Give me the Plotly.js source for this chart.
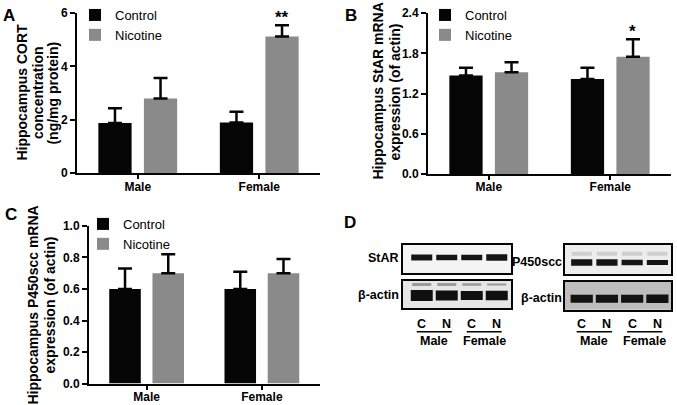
<!DOCTYPE html>
<html>
<head>
<meta charset="utf-8">
<script src="https://cdn.plot.ly/plotly-3.0.1.min.js"></script>
<style>html,body{margin:0;padding:0;background:#fff;}#chart{width:677px;height:405px;}</style>
</head>
<body>
<div id="chart"></div>
<script>
// ---------- data ----------
const categories = ['Male', 'Female'];
const seriesNames = ['Control', 'Nicotine'];

const cortControl = [1.88, 1.90];
const cortControlErr = [0.55, 0.40];
const cortNicotine = [2.80, 5.12];
const cortNicotineErr = [0.76, 0.42];

const starControl = [1.47, 1.42];
const starControlErr = [0.115, 0.165];
const starNicotine = [1.52, 1.75];
const starNicotineErr = [0.15, 0.26];

const p450Control = [0.60, 0.60];
const p450ControlErr = [0.13, 0.11];
const p450Nicotine = [0.70, 0.70];
const p450NicotineErr = [0.12, 0.09];

const cortTicks = [0, 2, 4, 6];
const starTicks = [0, 0.6, 1.2, 1.8, 2.4];
const p450Ticks = [0, 0.2, 0.4, 0.6, 0.8, 1.0];

const cortTitle = ['Hippocampus CORT', 'concentration', '(ng/mg protein)'];
const starTitle = ['Hippocampus StAR mRNA', 'expression (of actin)'];
const p450Title = ['Hippocampus P450scc mRNA', 'expression (of actin)'];

// western blot lanes and relative band strength (band thickness)
const laneLabels = ['C', 'N', 'C', 'N'];
const laneGroups = ['Male', 'Female'];
const starBand = [6, 5.5, 5.5, 6.5];
const actinLeftBand = [11, 10, 9, 9.5];
const actinLeftFaint = [3, 3, 2.5, 2];
const p450Band = [6.5, 6.5, 5.5, 5];
const p450Faint = [4, 4, 4, 4];
const actinRightBand = [8, 8, 8, 8.5];

// ---------- styling ----------
const FONT = 'Liberation Sans, Arial, Helvetica, sans-serif';
const BLACK = '#050505';
const GRAY = '#8a8a8a';
const W = 677, H = 405;
const px = v => v / W;
const py = v => 1 - v / H;

const traces = [];
function addBars(xa, ya, leg, ctl, ctlErr, nic, nicErr) {
  traces.push({
    type: 'bar', x: categories, y: ctl, name: seriesNames[0], xaxis: xa, yaxis: ya,
    legend: leg, marker: {color: BLACK, line: {width: 0}},
    error_y: {type: 'data', array: ctlErr, arrayminus: ctlErr.map(() => 0), symmetric: false,
      color: BLACK, thickness: 2.5, width: 7}
  });
  traces.push({
    type: 'bar', x: categories, y: nic, name: seriesNames[1], xaxis: xa, yaxis: ya,
    legend: leg, marker: {color: GRAY, line: {width: 0}},
    error_y: {type: 'data', array: nicErr, arrayminus: nicErr.map(() => 0), symmetric: false,
      color: BLACK, thickness: 2.5, width: 7}
  });
}
addBars('x', 'y', 'legend', cortControl, cortControlErr, cortNicotine, cortNicotineErr);
addBars('x2', 'y2', 'legend2', starControl, starControlErr, starNicotine, starNicotineErr);
addBars('x3', 'y3', 'legend3', p450Control, p450ControlErr, p450Nicotine, p450NicotineErr);

function addBands(xa, ya, widths, yPos, color, halfW) {
  widths.forEach((w, i) => {
    const lane = i + 1;
    traces.push({
      type: 'scatter', mode: 'lines', x: [lane - halfW, lane + halfW], y: [yPos, yPos],
      xaxis: xa, yaxis: ya, showlegend: false, hoverinfo: 'skip',
      line: {color: color, width: w}
    });
  });
}
addBands('x4', 'y4', starBand, 0.55, '#151515', 0.42);
addBands('x5', 'y5', actinLeftFaint, 0.86, '#9a9a9a', 0.38);
addBands('x5', 'y5', actinLeftBand, 0.46, '#101010', 0.44);
addBands('x6', 'y6', p450Faint, 0.69, '#cfcfcf', 0.40);
addBands('x6', 'y6', p450Band, 0.39, '#151515', 0.42);
addBands('x7', 'y7', actinRightBand, 0.39, '#121212', 0.44);

// ---------- axes ----------
const tickFont = {family: FONT, size: 12, color: '#000', weight: 'bold'};
function catAxis(domain, anchor) {
  return {domain: domain, anchor: anchor, type: 'category', range: [-0.5, 1.5], showline: true, linecolor: BLACK,
    linewidth: 2, ticks: 'outside', ticklen: 4, tickwidth: 2, tickcolor: BLACK, ticklabelstandoff: -3,
    showgrid: false, zeroline: false, tickfont: tickFont, fixedrange: true};
}
function valAxis(domain, anchor, range, ticks, fmt) {
  return {domain: domain, anchor: anchor, range: range, tickvals: ticks, tickformat: fmt, showline: true,
    linecolor: BLACK, linewidth: 2, ticks: 'outside', ticklen: 5, tickwidth: 2, tickcolor: BLACK,
    showgrid: false, zeroline: false, tickfont: tickFont, fixedrange: true};
}
function blotAxis(domain, anchor, range) {
  return {domain: domain, anchor: anchor, range: range, showline: true, mirror: true, linecolor: BLACK,
    linewidth: 2, showticklabels: false, ticks: '', showgrid: false, zeroline: false, fixedrange: true};
}

const legendBase = {font: {family: FONT, size: 13, color: '#000'}, bgcolor: 'rgba(0,0,0,0)',
  xanchor: 'left', yanchor: 'top', tracegroupgap: 0, itemclick: false, itemdoubleclick: false};

const blotFont = {family: FONT, size: 12.5, color: '#000', weight: 'bold'};
const letterFont = {family: FONT, size: 17, color: '#000', weight: 'bold'};
const titleFont = {family: FONT, size: 14, color: '#000', weight: 'bold'};
function paperText(text, x, y, xanchor, font, angle) {
  return {text: text, x: px(x), y: py(y), xref: 'paper', yref: 'paper', xanchor: xanchor,
    yanchor: 'middle', showarrow: false, font: font, textangle: angle || 0};
}
const annotations = [
  paperText('A', 9, 14, 'center', letterFont),
  paperText('B', 351, 14, 'center', letterFont),
  paperText('C', 11, 214, 'center', letterFont),
  paperText('D', 350, 222, 'center', letterFont),
  {text: '**', x: categories[1], xref: 'x', xshift: 22.7, y: cortNicotine[1] + cortNicotineErr[1],
    yref: 'y', xanchor: 'center', yanchor: 'bottom', yshift: -4, showarrow: false, font: letterFont},
  {text: '*', x: categories[1], xref: 'x2', xshift: 22.7, y: starNicotine[1] + starNicotineErr[1],
    yref: 'y2', xanchor: 'center', yanchor: 'bottom', yshift: -4, showarrow: false, font: letterFont},
  paperText('StAR', 401, 257, 'right', blotFont),
  paperText('β-actin', 401, 294, 'right', blotFont),
  paperText('P450scc', 564, 261, 'right', blotFont),
  paperText('β-actin', 564, 297, 'right', blotFont)
];
// y-axis titles (rotated, one annotation per line)
[[cortTitle, [22, 37.5, 53], 91], [starTitle, [378, 395], 90], [p450Title, [33, 50], 305]].forEach(t => {
  t[0].forEach((line, i) => {
    annotations.push(paperText(line, t[1][i], t[2], 'center', titleFont, -90));
  });
});

const shapes = [
  {type: 'rect', xref: 'x4 domain', yref: 'y4 domain', x0: 0, x1: 1, y0: 0, y1: 1, fillcolor: '#f4f4f4', line: {width: 0}, layer: 'below'},
  {type: 'rect', xref: 'x5 domain', yref: 'y5 domain', x0: 0, x1: 1, y0: 0, y1: 1, fillcolor: '#e6e6e6', line: {width: 0}, layer: 'below'},
  {type: 'rect', xref: 'x6 domain', yref: 'y6 domain', x0: 0, x1: 1, y0: 0, y1: 1, fillcolor: '#ededed', line: {width: 0}, layer: 'below'},
  {type: 'rect', xref: 'x7 domain', yref: 'y7 domain', x0: 0, x1: 1, y0: 0, y1: 1, fillcolor: '#bdbdbd', line: {width: 0}, layer: 'below'}
];
['x4', 'x6'].forEach(xa => {
  laneLabels.forEach((lab, i) => {
    annotations.push({text: lab, x: i + 1, xref: xa, y: py(324), yref: 'paper', xanchor: 'center',
      yanchor: 'middle', showarrow: false, font: blotFont});
  });
  laneGroups.forEach((g, gi) => {
    const c = gi * 2 + 1.5;
    annotations.push({text: g, x: c, xref: xa, y: py(341), yref: 'paper', xanchor: 'center',
      yanchor: 'middle', showarrow: false, font: blotFont});
    shapes.push({type: 'line', xref: xa, yref: 'paper', x0: c - 0.7, x1: c + 0.7, y0: py(331.5), y1: py(331.5),
      line: {color: BLACK, width: 1.5}});
  });
});

const layout = {
  width: W, height: H, margin: {l: 0, r: 0, t: 0, b: 0},
  paper_bgcolor: '#fff', plot_bgcolor: 'rgba(0,0,0,0)',
  barmode: 'group', bargap: 0.25, bargroupgap: 0.27,
  font: {family: FONT, color: '#000'},
  xaxis: catAxis([px(77), px(320)], 'y'),
  yaxis: valAxis([1 - 172 / H, 1 - 11 / H], 'x', [0, 6], cortTicks, 'd'),
  xaxis2: catAxis([px(428), px(671)], 'y2'),
  yaxis2: valAxis([1 - 172.9 / H, 1 - 11.3 / H], 'x2', [0, 2.4], starTicks, '.1f'),
  xaxis3: catAxis([px(89), px(319.5)], 'y3'),
  yaxis3: valAxis([1 - 383.5 / H, 1 - 225 / H], 'x3', [0, 1.0], p450Ticks, '.1f'),
  xaxis4: blotAxis([px(403), px(511)], 'y4', [0.25, 4.57]),
  yaxis4: blotAxis([1 - 272.3 / H, 1 - 244 / H], 'x4', [0, 1]),
  xaxis5: blotAxis([px(403), px(511)], 'y5', [0.25, 4.57]),
  yaxis5: blotAxis([1 - 307.8 / H, 1 - 280 / H], 'x5', [0, 1]),
  xaxis6: blotAxis([px(565), px(671)], 'y6', [0.337, 4.54]),
  yaxis6: blotAxis([1 - 273 / H, 1 - 244 / H], 'x6', [0, 1]),
  xaxis7: blotAxis([px(565), px(671)], 'y7', [0.337, 4.54]),
  yaxis7: blotAxis([1 - 309.3 / H, 1 - 281 / H], 'x7', [0, 1]),
  legend: Object.assign({}, legendBase, {x: px(75), y: py(-2)}),
  legend2: Object.assign({}, legendBase, {x: px(425), y: py(-2)}),
  legend3: Object.assign({}, legendBase, {x: px(83), y: py(208)}),
  annotations: annotations,
  shapes: shapes
};

Plotly.newPlot('chart', traces, layout, {displayModeBar: false, staticPlot: true});
</script>
</body>
</html>
